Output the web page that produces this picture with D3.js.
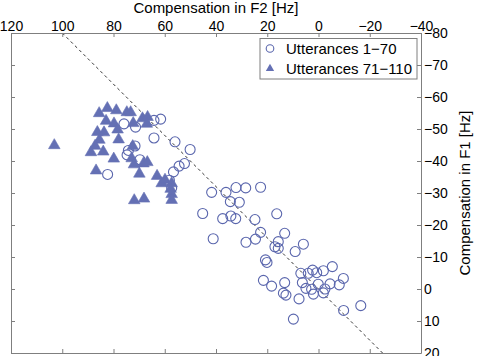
<!DOCTYPE html>
<html>
<head>
<meta charset="utf-8">
<script src="https://cdn.jsdelivr.net/npm/d3@7"></script>
<style>
  html, body { margin: 0; padding: 0; background: #fff; }
  svg { display: block; font-family: "Liberation Sans", Arial, Helvetica, sans-serif; }
</style>
</head>
<body>
<svg id="chart" width="480" height="356"></svg>
<script>
// ---- Data (F2 compensation, F1 compensation) in Hz ----
const seriesNames = ["Utterances 1\u221270", "Utterances 71\u2212110"];

const f2Utt1to70 = [75.9, 71.4, 64.2, 61.6, 64.2, 56.0, 50.1, 71.6, 74.2, 74.7, 69.7, 82.3,
  52.3, 54.4, 56.6, 58.2, 57.3, 41.7, 36.1, 32.2, 28.4, 22.6, 34.4, 30.9, 45.2, 37.4,
  34.2, 32.3, 24.8, 16.3, 41.1, 22.6, 24.6, 28.3, 13.2, 15.7, 17.0, 15.7, 5.9, 9.1,
  20.7, 20.1, 2.3, 6.9, 4.0, 0.7, -1.9, -5.4, 21.5, 18.3, 13.2, 6.3, -9.7, -8.1, -4.5,
  0.1, 4.9, 2.7, -2.5, -1.9, 2.0, 13.7, 12.7, 7.6, -9.8, -16.5, 9.8];
const f1Utt1to70 = [-51.6, -50.6, -52.7, -53.1, -47.2, -46.0, -43.6, -44.7, -43.3, -41.9, -40.4, -35.8,
  -39.2, -38.4, -36.6, -34.0, -31.6, -30.2, -30.2, -31.7, -31.6, -31.8, -27.3, -27.1, -23.6, -22.0,
  -22.8, -22.0, -21.7, -23.5, -15.7, -17.7, -15.6, -14.6, -17.4, -14.8, -13.2, -12.7, -14.0, -11.7,
  -9.1, -8.3, -5.9, -4.9, -4.9, -5.1, -5.7, -7.0, -2.7, -0.9, -2.0, -2.0, -3.3, -1.3, -1.6,
  -1.5, -0.2, 0.1, 0.0, 1.2, 1.6, 1.3, 1.9, 3.1, 6.7, 5.2, 9.4];

const f2Utt71to110 = [103.1, 85.6, 82.4, 78.9, 74.8, 73.3, 82.9, 79.8, 78.4, 86.3, 83.7, 85.5,
  78.0, 87.2, 88.8, 84.0, 79.9, 86.8, 72.3, 68.7, 66.7, 67.0, 72.5, 72.9, 72.0, 68.3,
  66.8, 69.9, 63.0, 61.2, 59.9, 57.3, 57.7, 57.3, 57.3, 71.9, 68.1];
const f1Utt71to110 = [-44.9, -54.9, -56.5, -55.8, -55.2, -55.2, -52.5, -51.7, -49.8, -49.0, -48.9, -46.6,
  -46.7, -44.7, -42.7, -42.9, -40.7, -37.0, -51.8, -53.3, -53.7, -51.6, -44.6, -40.8, -38.9, -39.2,
  -39.6, -36.0, -35.3, -33.0, -34.1, -33.0, -31.25, -29.6, -27.8, -27.7, -28.2];

const xTicks = [120, 100, 80, 60, 40, 20, 0, -20, -40];
const yTicks = [-80, -70, -60, -50, -40, -30, -20, -10, 0, 10, 20];
const refLineF2 = [100, -25];          // reference line F1 = -0.8 * F2
const refLineF1 = [-80, 20];

const xTitle = "Compensation in F2 [Hz]";
const yTitle = "Compensation in F1 [Hz]";

// ---- Layout ----
const pLeft = 11, pRight = 421, pTop = 33, pBottom = 353;
const axisColor = "#7f7f7f";
const markColor = "#5a66ad";
const fillColor = "#6470b4";

const svg = d3.select("#chart");
const x = d3.scaleLinear().domain([120, -40]).range([pLeft, pRight]);
const y = d3.scaleLinear().domain([-80, 20]).range([pTop, pBottom]);

// Reference dashed line
svg.append("line")
  .attr("x1", x(refLineF2[0])).attr("y1", y(refLineF1[0]))
  .attr("x2", x(refLineF2[1])).attr("y2", y(refLineF1[1]))
  .attr("stroke", "#000").attr("stroke-width", 0.8)
  .attr("stroke-dasharray", "3,3");

// Circles
const circ = f2Utt1to70.map((v, i) => [v, f1Utt1to70[i]]);
svg.append("g").selectAll("circle").data(circ).join("circle")
  .attr("cx", d => x(d[0])).attr("cy", d => y(d[1])).attr("r", 5)
  .attr("fill", "none").attr("stroke", markColor).attr("stroke-width", 1.1);

// Triangles
const tri = f2Utt71to110.map((v, i) => [v, f1Utt71to110[i]]);
const triSym = d3.symbol(d3.symbolTriangle, 58);
svg.append("g").selectAll("path").data(tri).join("path")
  .attr("d", triSym)
  .attr("transform", d => `translate(${x(d[0])},${y(d[1])})`)
  .attr("fill", fillColor).attr("stroke", fillColor).attr("stroke-width", 0.6);

// Axes
function styleAxis(g) {
  g.selectAll(".domain").attr("stroke", axisColor);
  g.selectAll(".tick line").attr("stroke", axisColor);
  g.selectAll(".tick text").attr("fill", "#000").style("font-size", "14px")
    .style("font-family", '"Liberation Sans", Arial, sans-serif');
}
svg.append("g").attr("transform", `translate(0,${pTop})`)
  .call(d3.axisTop(x).tickValues(xTicks).tickSize(-4).tickSizeOuter(0).tickPadding(2))
  .call(styleAxis);
svg.append("g").attr("transform", `translate(0,${pBottom})`)
  .call(d3.axisBottom(x).tickValues(xTicks).tickSize(-4).tickSizeOuter(0).tickFormat(""))
  .call(styleAxis);
svg.append("g").attr("transform", `translate(${pLeft},0)`)
  .call(d3.axisLeft(y).tickValues(yTicks).tickSize(-4).tickSizeOuter(0).tickFormat(""))
  .call(styleAxis);
svg.append("g").attr("transform", `translate(${pRight},0)`)
  .call(d3.axisRight(y).tickValues(yTicks).tickSize(-4).tickSizeOuter(0).tickPadding(3))
  .call(styleAxis);

// Titles
svg.append("text").attr("x", (pLeft + pRight) / 2).attr("y", 12.5)
  .attr("text-anchor", "middle").style("font-size", "15px").text(xTitle);
svg.append("text")
  .attr("transform", `translate(470,${(pTop + pBottom) / 2}) rotate(-90)`)
  .attr("text-anchor", "middle").style("font-size", "15px").text(yTitle);

// Legend
const lg = svg.append("g");
lg.append("rect").attr("x", 260).attr("y", 38.5).attr("width", 157).attr("height", 40.5)
  .attr("fill", "#fff").attr("stroke", axisColor).attr("stroke-width", 1);
lg.append("circle").attr("cx", 270).attr("cy", 48.5).attr("r", 3.8)
  .attr("fill", "none").attr("stroke", markColor).attr("stroke-width", 1.1);
lg.append("path").attr("d", d3.symbol(d3.symbolTriangle, 30))
  .attr("transform", "translate(270,68.5)").attr("fill", fillColor);
lg.append("text").attr("x", 286).attr("y", 53.5).style("font-size", "15px").text(seriesNames[0]);
lg.append("text").attr("x", 286).attr("y", 73.5).style("font-size", "15px").text(seriesNames[1]);
</script>
</body>
</html>
